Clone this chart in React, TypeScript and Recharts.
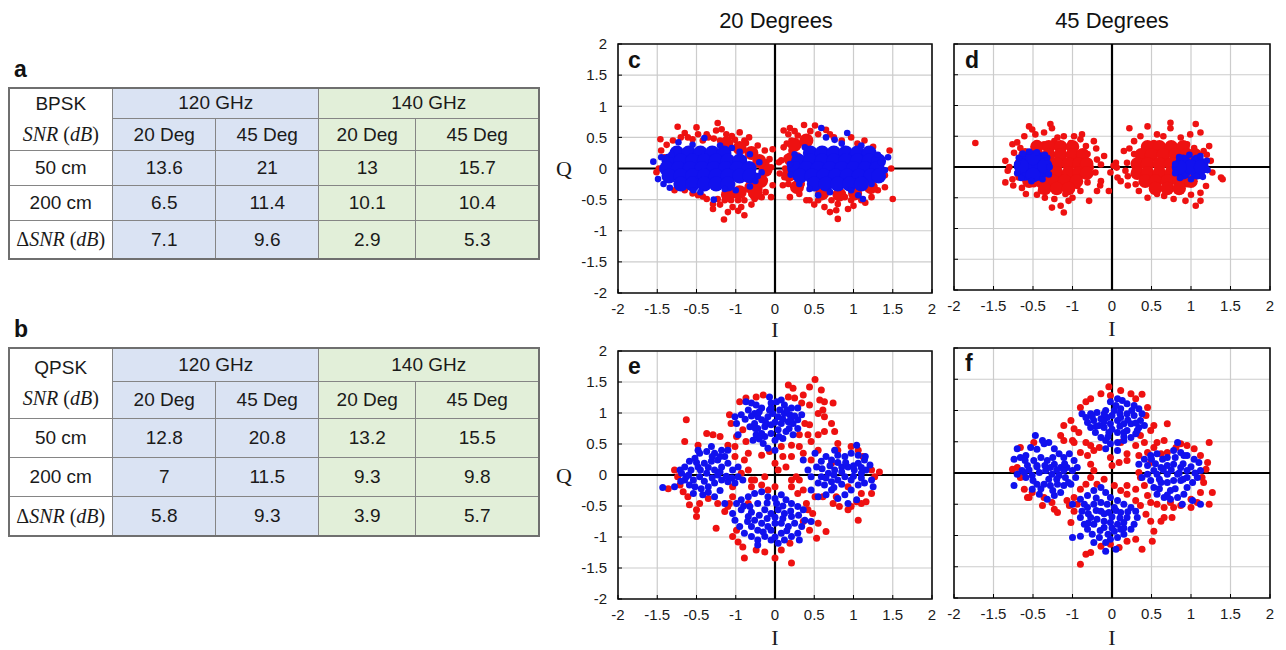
import React from 'react';
import { ScatterChart, Scatter, XAxis, YAxis, CartesianGrid, ReferenceLine, ReferenceArea } from 'recharts';

type Pt = [number, number];

// ---- tables ----
const freqs = ['120 GHz', '140 GHz'];
const angles = ['20 Deg', '45 Deg', '20 Deg', '45 Deg'];
const rowLabels = ['50 cm', '200 cm'];
const bpskSnr = [[13.6, 21, 13, 15.7], [6.5, 11.4, 10.1, 10.4]];
const bpskDelta = [7.1, 9.6, 2.9, 5.3];
const qpskSnr = [[12.8, 20.8, 13.2, 15.5], [7, 11.5, 9.3, 9.8]];
const qpskDelta = [5.8, 9.3, 3.9, 5.7];

// ---- axes ----
const tickValues = [-2, -1.5, -1, -0.5, 0, 0.5, 1, 1.5, 2];
const xTickLabels = ['-2', '-1.5', '-0.5', '-1', '0', '0.5', '1', '1.5', '2'];
const yTickLabels = ['-2', '-1.5', '-1', '-0.5', '0', '0.5', '1', '1.5', '2'];

// ---- c: BPSK 20 deg ----
const cRed: Pt[] = [
  [-1.24,0.67],[-1.46,0.47],[-1.15,0.57],[-1.0,0.66],[-0.87,0.55],[-0.73,0.73],[-0.75,0.61],[-0.62,0.55],[-0.51,0.46],[-0.39,0.45],
  [-0.37,0.41],[-0.22,0.37],[-0.13,0.29],[-0.03,0.31],[-0.07,0.15],[-0.05,0.02],[-0.09,-0.06],[-0.13,-0.19],[-0.2,-0.33],[-0.3,-0.41],
  [-0.39,-0.51],[-0.47,-0.51],[-0.56,-0.51],[-0.64,-0.51],[-0.73,-0.49],[-0.79,-0.57],[-0.79,-0.65],[-0.65,-0.82],[-0.39,-0.75],[-0.43,-0.62],
  [-0.54,-0.62],[-0.87,-0.49],[-0.98,-0.43],[-1.15,-0.35],[-1.28,-0.35],[-1.45,0.29],[-1.41,0.18],[-1.48,0],[-1.51,-0.06],[-0.03,-0.27],
  [-0.26,-0.49],[-0.17,-0.46],[-0.85,0.5],[-0.98,0.55],[-1.11,0.5],[-0.68,0.63],[-0.6,0.42],[-0.47,0.37],[-0.3,0.29],[-0.24,0.15],
  [-0.11,0.1],[-0.15,-0.11],[-0.24,-0.27],[-0.34,-0.33],[-0.51,-0.43],[-0.62,-0.41],[-0.05,-0.46],[-1.3,0.45],[-1.2,0.5],[-0.92,0.45],
  [-0.78,0.48],[-0.7,0.45],[-0.55,0.52],[-0.45,0.58],[-0.33,0.5],[-1.38,0.38],[-1.05,0.47],[-1.05,-0.4],[-0.92,-0.45],[-0.7,-0.58],
  [-0.6,-0.7],[-0.47,-0.68],[-0.3,-0.58],[-0.12,-0.38],
  [0.11,0.61],[0.19,0.65],[0.37,0.7],[0.51,0.69],[0.65,0.62],[0.17,0.55],[0.21,0.45],[0.11,0.34],[0.29,0.53],[0.38,0.42],
  [0.08,0.13],[0.12,-0.14],[0.1,-0.27],[0.17,-0.25],[0.19,-0.46],[0.34,-0.25],[0.4,-0.51],[0.44,-0.51],[0.55,-0.51],[0.63,-0.62],
  [0.78,-0.67],[0.8,-0.81],[0.93,-0.65],[0.97,-0.51],[1.1,-0.51],[1.23,-0.46],[1.31,-0.35],[1.4,-0.3],[1.5,-0.49],[1.46,0.29],
  [1.48,0],[1.4,-0.11],[0.72,-0.51],[0.89,-0.46],[0.63,-0.41],[0.31,-0.41],[0.25,-0.33],[0.97,0.5],[1.14,0.45],[0.55,0.55],
  [0.42,0.34],[0.21,0.29],[0.29,0.21],[0.8,-0.57],[0.05,0.1],[0.06,-0.08],[0.15,0.17],[0.13,0.0],[0.25,0.6],[0.3,0.38],
  [0.45,0.6],[0.75,0.5],[0.85,0.45],[1.05,0.4],[1.25,0.35],[0.5,-0.58],[0.7,-0.7],[1.0,-0.6],[1.15,-0.55],[0.15,0.4],[0.7,0.55],
];
const cRedCore: Pt[] = [
  [-0.3,-0.3],[-0.45,-0.38],[-0.18,-0.2],[-0.12,-0.02],[-0.2,0.12],[-0.3,0.25],[-0.45,0.33],[-0.62,0.4],[-0.6,-0.42],[-0.25,-0.4],
  [0.25,0.38],[0.4,0.45],[0.2,0.15],[0.18,-0.1],[0.6,-0.4],[0.82,-0.42],[1.02,-0.4],[1.22,-0.3],[0.28,-0.3],
];
const cBlueCore: Pt[] = [
  [-1.25,0.25],[-1.1,0.25],[-0.95,0.25],[-0.8,0.25],[-0.65,0.25],
  [-1.35,0.12],[-1.2,0.12],[-1.05,0.12],[-0.9,0.12],[-0.75,0.12],[-0.6,0.12],[-0.45,0.12],
  [-1.38,0],[-1.23,0],[-1.08,0],[-0.93,0],[-0.78,0],[-0.63,0],[-0.48,0],[-0.33,0],
  [-1.35,-0.12],[-1.2,-0.12],[-1.05,-0.12],[-0.9,-0.12],[-0.75,-0.12],[-0.6,-0.12],[-0.45,-0.12],[-0.32,-0.12],
  [-1.2,-0.25],[-1.05,-0.25],[-0.9,-0.25],[-0.75,-0.25],[-0.6,-0.25],
  [0.45,0.25],[0.6,0.25],[0.75,0.25],[0.9,0.25],[1.05,0.25],[1.2,0.25],
  [0.3,0.12],[0.45,0.12],[0.6,0.12],[0.75,0.12],[0.9,0.12],[1.05,0.12],[1.2,0.12],[1.32,0.12],
  [0.25,0],[0.4,0],[0.55,0],[0.7,0],[0.85,0],[1.0,0],[1.15,0],[1.3,0],
  [0.32,-0.12],[0.47,-0.12],[0.62,-0.12],[0.77,-0.12],[0.92,-0.12],[1.07,-0.12],[1.22,-0.12],[1.32,-0.12],
  [0.5,-0.25],[0.65,-0.25],[0.8,-0.25],[0.95,-0.25],[1.1,-0.25],
];
const cBlue: Pt[] = [
  [-1.55,0.11],[-1.49,-0.17],[-1.34,-0.31],[-1.32,0.22],[-1.23,0.42],[-0.9,0.49],[-0.78,-0.5],[-0.32,0.23],[-0.17,-0.06],[-0.32,-0.29],
  [-0.64,-0.33],[-1.04,-0.35],[-1.05,0.38],[-0.7,0.37],[-0.55,0.33],[-0.45,0.27],[-0.2,0.1],[-0.25,-0.2],[-0.5,-0.35],[-0.95,-0.38],
  [-1.42,-0.25],[-1.45,0.18],[-0.22,-0.12],[-0.4,0.15],
  [0.59,0.65],[0.92,0.57],[0.65,0.5],[0.76,0.46],[1.31,0.22],[1.35,0.1],[1.12,-0.49],[1.06,-0.43],[0.55,-0.43],[0.44,-0.33],
  [0.31,-0.25],[0.19,0.07],[0.25,0.23],[0.38,0.34],[1.4,-0.03],[1.23,-0.25],[0.97,-0.35],[0.85,0.4],[1.1,0.37],[1.44,0.18],
  [0.7,-0.38],[0.2,-0.1],
];

// ---- d: BPSK 45 deg ----
const dRed: Pt[] = [
  [-1.73,0.39],[-1.05,0.66],[-1.01,0.61],[-0.78,0.7],[-0.76,0.63],[-1.11,0.5],[-1.26,0.37],[-1.24,0.23],[-1.35,0.1],[-1.32,-0.06],
  [-1.35,-0.25],[-1.26,-0.2],[-1.14,-0.34],[-1.09,-0.44],[-0.9,-0.39],[-0.73,-0.52],[-0.76,-0.66],[-0.61,-0.74],[-0.65,-0.63],[-0.5,-0.5],
  [-0.4,-0.39],[-0.29,-0.55],[-0.19,-0.39],[-0.04,-0.39],[-0.14,-0.23],[-0.21,-0.09],[-0.14,0.04],[-0.1,0.18],[-0.19,0.12],[-0.23,0.42],
  [-0.38,0.53],[-0.48,0.5],[-0.61,0.5],[-0.69,0.48],[-0.86,0.56],[-0.97,0.53],[-0.86,0.37],[-0.31,0.21],[-0.27,-0.01],[-0.31,-0.25],
  [-0.44,-0.31],[-0.59,-0.44],[-0.99,-0.28],[-1.18,-0.17],[-1.16,0.31],[-0.95,0.39],[-0.73,0.42],[-0.52,0.39],[-0.33,0.34],[-1.3,0.0],
  [-1.2,0.4],[-0.55,-0.55],[-0.85,-0.5],[-0.2,0.3],[-0.15,-0.3],[-1.25,-0.3],[-0.4,0.45],[-0.95,-0.45],
  [0.22,0.63],[0.45,0.66],[0.74,0.72],[0.74,0.63],[1.06,0.7],[1.12,0.56],[0.99,0.53],[1.23,0.34],[1.16,0.26],[1.25,0.1],
  [1.27,-0.09],[1.38,-0.17],[1.4,-0.2],[1.19,-0.31],[1.12,-0.42],[1.12,-0.55],[1.06,-0.63],[0.93,-0.55],[0.78,-0.52],[0.66,-0.47],
  [0.57,-0.44],[0.34,-0.39],[0.3,-0.28],[0.11,-0.23],[0.07,-0.17],[0.05,0.07],[0.15,0.26],[0.19,0.07],[0.28,0.21],[0.28,0.42],
  [0.36,0.5],[0.57,0.53],[0.53,0.39],[0.87,0.48],[0.95,0.37],[1.04,0.31],[1.1,0.15],[0.95,-0.28],[0.87,-0.39],[0.17,-0.06],
  [0.02,0.02],[-0.02,-0.09],[0.06,-0.01],[0.2,-0.3],[0.45,-0.5],[1.0,-0.45],[0.22,0.3],[1.2,0.2],[0.2,-0.15],[0.65,0.5],
];
const dRedCore: Pt[] = [
  [-0.95,0.33],[-0.8,0.33],[-0.65,0.33],[-0.5,0.33],
  [-1.1,0.2],[-0.95,0.2],[-0.8,0.2],[-0.65,0.2],[-0.5,0.2],[-0.37,0.2],
  [-1.15,0.05],[-1.0,0.05],[-0.85,0.05],[-0.7,0.05],[-0.55,0.05],[-0.42,0.05],[-0.32,0.05],
  [-1.15,-0.1],[-1.0,-0.1],[-0.85,-0.1],[-0.7,-0.1],[-0.55,-0.1],[-0.42,-0.1],[-0.32,-0.1],
  [-1.05,-0.23],[-0.9,-0.23],[-0.75,-0.23],[-0.6,-0.23],[-0.45,-0.23],
  [-0.85,-0.35],[-0.7,-0.35],[-0.55,-0.35],
  [0.45,0.33],[0.6,0.33],[0.75,0.33],[0.9,0.33],
  [0.37,0.2],[0.5,0.2],[0.65,0.2],[0.8,0.2],[0.95,0.2],[1.05,0.2],
  [0.32,0.05],[0.45,0.05],[0.6,0.05],[0.75,0.05],[0.85,0.05],
  [0.32,-0.1],[0.45,-0.1],[0.6,-0.1],[0.75,-0.1],[0.85,-0.1],
  [0.42,-0.23],[0.55,-0.23],[0.7,-0.23],[0.85,-0.23],[1.0,-0.23],
  [0.55,-0.35],[0.7,-0.35],[0.85,-0.35],
];
const dBlueCore: Pt[] = [
  [-1.1,0.12],[-0.92,0.12],[-1.1,-0.1],[-0.92,-0.1],[-1.0,0.0],[-1.0,0.15],[-1.0,-0.13],[-0.85,0.02],[-1.15,0.02],
  [0.9,0.08],[1.08,0.08],[0.9,-0.08],[1.08,-0.08],[1.0,0.0],[0.85,0.0],[1.13,0.0],
];
const dBlue: Pt[] = [
  [-1.2,0.05],[-1.2,-0.1],[-1.18,0.15],[-1.05,0.25],[-0.95,0.24],[-0.82,0.15],[-0.79,0.0],[-0.8,-0.12],[-0.88,-0.2],[-1.02,-0.23],
  [-1.15,-0.18],[-0.85,0.2],[-1.13,0.22],
  [0.8,0.05],[0.8,-0.1],[0.85,0.16],[0.98,0.2],[1.12,0.18],[1.2,0.1],[1.21,-0.05],[1.15,-0.16],[1.0,-0.2],[0.86,-0.18],
];

// ---- e: QPSK 20 deg ----
const eRed: Pt[] = [
  [0.17,1.45],[0.23,1.4],[0.36,1.29],[0.44,1.42],[0.51,1.54],[0.59,1.37],[0.57,1.21],[0.63,1.18],[0.61,1.05],[0.55,0.99],
  [0.44,1.13],[0.34,1.16],[0.25,1.24],[0.17,1.26],[-0.15,1.29],[-0.24,1.26],[-0.37,1.24],[-0.58,0.97],[-0.45,1.18],[-0.56,0.83],
  [-0.49,0.62],[-0.41,0.73],[-0.37,0.54],[-0.34,0.35],[-0.17,0.32],[-0.07,0.38],[0.08,0.46],[0.21,0.48],[0.21,0.3],[0.31,0.46],
  [0.38,0.83],[0.44,0.81],[0.46,0.54],[0.55,0.4],[0.63,0.7],[0.72,0.83],[0.76,0.7],[0.8,0.51],[0.55,0.65],[0.74,1.16],
  [0.63,0.94],[0.42,0.65],[0.31,0.65],[0.1,0.3],[0,0.19],[0.14,0.13],[0.04,0.08],
  [-1.13,0.89],[-1.15,0.54],[-0.98,0.48],[-0.87,0.67],[-0.79,0.65],[-0.7,0.62],[-0.6,0.48],[-0.51,0.46],[-1.28,0.08],[-1.24,-0.03],
  [-1.21,-0.16],[-1.17,-0.27],[-1.11,-0.35],[-1.09,-0.48],[-1,-0.56],[-1,-0.67],[-0.75,-0.86],[-0.64,-0.59],[-0.58,-0.46],[-0.54,-0.35],
  [-0.54,-0.19],[-0.43,0.03],[-0.34,0.08],[-0.3,-0.08],[-0.3,-0.19],[-0.26,-0.08],[-0.39,0.24],[-0.51,0.3],[-0.85,-0.38],[-0.96,-0.46],
  [-0.73,-0.46],[-1.36,-0.22],
  [0.8,0.4],[0.97,0.46],[1.06,0.4],[1.12,0.3],[1.23,0.08],[1.33,0.05],[1.27,-0.03],[1.23,-0.3],[1.16,-0.43],[1.1,-0.46],
  [1.04,-0.43],[0.97,-0.51],[0.93,-0.56],[0.82,-0.51],[0.74,-0.46],[0.61,-0.35],[0.51,-0.35],[0.4,-0.46],[0.36,-0.24],[0.31,-0.08],
  [0.27,-0.03],[0.46,0.24],[0.36,0.35],[0.72,0.19],[0.93,-0.19],[1.1,-0.3],[1.06,-0.73],[0.78,-0.35],
  [-0.13,-0.03],[-0.17,-0.16],[-0.09,-0.24],[0,-0.19],[0.21,-0.08],[0.21,-0.19],[0.29,-0.3],[0.42,-0.56],[0.48,-0.62],[0.55,-0.78],
  [0.65,-0.91],[0.53,-1.02],[0.44,-0.89],[0.36,-0.75],[0.19,-1.1],[0.08,-1.21],[0,-1.34],[0.21,-1.42],[-0.13,-1.24],[-0.24,-1.21],
  [-0.39,-1.34],[-0.41,-1.16],[-0.47,-1.08],[-0.49,-0.89],[-0.54,-0.99],[-0.34,-0.46],[-0.6,-0.51],
];
const eBlue: Pt[] = [
  [-0.37,1.18],[-0.3,1.16],[-0.24,1.13],[-0.34,1.05],[-0.26,0.99],[-0.17,1.08],[-0.07,1.26],[-0.05,1.16],[0.02,1.18],[0.08,1.21],
  [0.12,1.13],[0.21,1.08],[0.29,1.08],[0.12,0.99],[0.04,0.94],[-0.09,0.94],[-0.17,0.89],[-0.26,0.83],[-0.32,0.78],[-0.22,0.75],
  [-0.13,0.78],[-0.05,0.81],[0.08,0.83],[0.17,0.86],[0.23,0.83],[0.29,0.75],[0.23,0.65],[0.14,0.7],[0.04,0.73],[-0.05,0.67],
  [-0.13,0.62],[-0.24,0.65],[-0.28,0.56],[-0.15,0.51],[-0.09,0.43],[0,0.4],[-0.49,0.83],[-0.51,0.94],[-0.43,0.97],[-0.47,0.65],
  [0.1,0.59],[0.29,0.89],[0.34,0.97],[-0.07,1.05],[-0.17,0.67],[-0.22,0.94],[-0.03,0.99],[0.06,1.05],[0.19,0.97],[0,0.56],
  [-0.3,0.95],[-0.2,1.02],[-0.12,0.85],[0.0,0.85],[0.1,0.9],[0.2,0.9],[0.15,1.05],[-0.25,0.75],[-0.05,1.08],[0.25,0.95],
  [-0.38,0.9],[0.05,0.62],[-0.2,0.58],[0.18,0.75],
  [-1.43,-0.2],[-1.28,-0.19],[-1.21,0.08],[-1.15,0.13],[-1.09,0.22],[-1.02,0.27],[-0.96,0.35],[-0.87,0.38],[-0.77,0.35],[-0.68,0.4],
  [-0.64,0.3],[-0.73,0.24],[-0.81,0.22],[-0.9,0.19],[-0.98,0.13],[-1.07,0.08],[-1.13,-0.03],[-1.04,-0.08],[-0.96,-0.03],[-0.87,0.03],
  [-0.77,0.08],[-0.68,0.13],[-0.6,0.19],[-0.54,0.08],[-0.47,-0.03],[-0.51,-0.13],[-0.6,-0.11],[-0.68,-0.08],[-0.77,-0.13],[-0.85,-0.19],
  [-0.94,-0.22],[-1.02,-0.19],[-1.09,-0.16],[-0.92,-0.32],[-0.77,-0.35],[-0.64,-0.46],[-1.04,-0.3],[-1.15,-0.08],[-1.19,0.03],[-0.6,0.4],
  [-0.81,0.46],[-0.47,0.13],[-0.41,-0.08],[-0.98,0.4],[-0.73,0],
  [-1.1,0.0],[-0.95,0.08],[-0.85,0.12],[-0.7,0.05],[-0.62,-0.02],[-0.9,-0.1],[-0.8,-0.05],[-1.0,0.2],[-0.8,0.3],[-0.7,0.3],
  [-0.55,-0.05],[-1.2,-0.1],[-0.85,-0.28],[-0.7,-0.25],
  [0.36,0.24],[0.42,0.08],[0.46,-0.03],[0.53,0.13],[0.59,0.22],[0.65,0.3],[0.72,0.24],[0.8,0.32],[0.89,0.3],[0.97,0.35],
  [1.04,0.48],[1.06,0.32],[1.14,0.24],[1.21,0.16],[1.16,0.08],[1.1,0.03],[1.01,0.08],[0.93,0.13],[0.85,0.13],[0.76,0.08],
  [0.68,0.03],[0.59,-0.03],[0.55,-0.13],[0.63,-0.16],[0.72,-0.11],[0.8,-0.08],[0.89,-0.03],[0.97,-0.08],[1.06,-0.16],[1.14,-0.13],
  [1.23,-0.08],[1.25,-0.19],[0.97,-0.24],[0.89,-0.32],[0.8,-0.38],[0.72,-0.24],[0.65,-0.32],[0.46,-0.24],[0.93,-0.46],[1.04,-0.4],
  [0.55,-0.35],[0.76,0.4],[0.51,0.35],[1.06,0.19],
  [0.6,0.1],[0.7,0.15],[0.8,0.2],[0.9,0.2],[1.0,0.15],[1.1,0.12],[0.65,-0.05],[0.75,0.0],[0.85,0.05],[1.0,-0.02],
  [1.1,-0.05],[0.85,-0.15],[0.75,-0.2],[1.15,0.3],
  [-0.49,-0.46],[-0.43,-0.4],[-0.34,-0.35],[-0.26,-0.3],[-0.17,-0.27],[-0.09,-0.35],[0,-0.38],[0.08,-0.32],[0.14,-0.4],[0.21,-0.46],
  [0.29,-0.51],[0.36,-0.56],[0.38,-0.73],[0.34,-0.83],[0.29,-0.94],[0.21,-0.99],[0.12,-1.05],[0.04,-1.1],[-0.05,-1.05],[-0.13,-0.99],
  [-0.22,-1.05],[-0.3,-0.99],[-0.39,-0.94],[-0.45,-0.83],[-0.51,-0.73],[-0.54,-0.62],[-0.43,-0.56],[-0.32,-0.51],[-0.22,-0.46],[-0.13,-0.56],
  [-0.05,-0.62],[0.04,-0.56],[0.12,-0.62],[0.21,-0.67],[0.25,-0.78],[0.17,-0.83],[0.08,-0.78],[0,-0.78],[-0.09,-0.83],[-0.17,-0.78],
  [-0.26,-0.73],[-0.34,-0.67],[-0.3,-0.83],[-0.22,-0.89],[-0.05,-0.89],[0.08,-0.94],[0.02,-0.46],[0.46,-0.75],[0.31,-1.05],[-0.22,-1.13],
  [-0.3,-0.6],[-0.2,-0.65],[-0.1,-0.7],[0.0,-0.68],[0.1,-0.7],[0.2,-0.58],[-0.35,-0.75],[-0.15,-0.92],[0.15,-0.9],[0.0,-1.0],
  [-0.4,-0.5],[0.3,-0.65],[-0.1,-0.45],[0.1,-0.5],
];

// ---- f: QPSK 45 deg ----
const fRed: Pt[] = [
  [-0.04,1.38],[-0.02,1.24],[-0.14,1.27],[-0.27,1.19],[-0.33,1.14],[-0.4,1.05],[-0.52,0.84],[-0.61,0.76],[-0.48,0.71],[-0.42,0.65],
  [-0.33,0.49],[-0.27,0.44],[-0.23,0.36],[-0.16,0.41],[0.11,1.32],[0.24,1.27],[0.38,1.26],[0.3,1.19],[0.45,1.05],[0.43,0.92],
  [0.53,0.76],[0.49,0.68],[0.36,0.6],[0.41,0.49],[0.3,0.44],[0.19,0.31],[0.11,0.49],[-0.02,0.25],[0.7,0.79],[0.57,0.49],
  [0.66,0.52],[0.53,0.41],[0.45,0.33],[0.34,0.28],[0,0.12],[0.09,0.17],[0.19,0.2],
  [-1.2,0.09],[-1.16,-0.07],[-1.11,-0.26],[-1.07,-0.39],[-1.01,-0.31],[-0.88,-0.52],[-0.73,-0.58],[-0.69,-0.63],[-0.57,-0.44],[-0.48,-0.39],
  [-0.4,-0.26],[-0.33,-0.18],[-0.27,-0.07],[-0.23,0.04],[-0.27,0.14],[-0.31,0.28],[-0.4,0.33],[-0.48,0.49],[-0.61,0.52],[-0.65,0.6],
  [-0.5,0.52],[-0.99,0.49],[-1.16,0.41],[-1.26,0.06],[-1.05,-0.39],[-0.86,-0.39],[-0.76,-0.47],
  [0.34,0.01],[0.36,-0.07],[0.41,-0.2],[0.45,-0.36],[0.49,-0.47],[0.57,-0.5],[0.66,-0.55],[0.78,-0.55],[0.87,-0.52],[1,-0.42],
  [1.12,-0.31],[1.16,-0.15],[1.14,-0.07],[1.19,0.06],[1.21,0.17],[1.12,0.28],[1.04,0.39],[0.95,0.44],[0.87,0.47],[0.81,0.41],
  [0.7,0.33],[0.62,0.31],[0.49,0.17],[1.23,0.49],[1.27,-0.31],[1.23,-0.5],[1.08,-0.47],[1,-0.55],[0.74,-0.47],
  [-0.4,-1.46],[-0.33,-1.3],[-0.27,-1.27],[-0.14,-1.17],[-0.02,-1.14],[0.09,-1.19],[0.19,-1.09],[0.3,-1.06],[0.38,-1.22],[0.51,-1.09],
  [0.53,-0.93],[0.62,-0.77],[0.66,-0.71],[0.76,-0.71],[0.49,-0.77],[0.43,-0.66],[0.36,-0.52],[0.3,-0.44],[0.19,-0.34],[0.11,-0.28],
  [0.03,-0.2],[-0.1,-0.1],[-0.19,-0.18],[-0.48,-0.61],[-0.52,-0.79],[-0.54,-0.52],[-0.44,-0.5],[0.19,-0.2],[0.3,-0.26],
];
const fBlue: Pt[] = [
  [-0.33,0.89],[-0.27,0.95],[-0.19,0.97],[-0.08,1],[-0.02,1.14],[0.07,1.19],[0.13,1.16],[0.19,1.11],[0.28,1.08],[0.34,1.03],
  [0.38,0.95],[0.36,0.84],[0.34,0.73],[0.3,0.63],[0.24,0.57],[0.15,0.52],[0.07,0.49],[-0.02,0.47],[-0.08,0.52],[-0.14,0.57],
  [-0.21,0.65],[-0.27,0.73],[-0.31,0.81],[-0.23,0.84],[-0.14,0.87],[-0.06,0.89],[0.03,1],[0.11,1.03],[0.19,0.95],[0.28,0.92],
  [0.24,0.79],[0.15,0.79],[0.07,0.84],[-0.02,0.79],[-0.1,0.73],[-0.16,0.76],[-0.04,0.65],[0.07,0.65],[0.15,0.65],[0.07,0.36],
  [-0.08,0.39],[0.41,0.76],[-0.38,0.95],[0.11,0.89],[0,0.92],[0.19,0.68],
  [-0.2,0.75],[-0.1,0.82],[0.0,0.7],[0.1,0.75],[0.2,0.85],[0.3,0.8],[0.25,1.0],[0.05,1.08],[-0.1,0.95],[-0.25,0.9],
  [0.15,0.58],[-0.05,0.58],[0.32,0.68],[0.1,0.95],
  [-1.24,0.22],[-1.24,-0.2],[-1.2,0.39],[-1.16,0.25],[-1.09,0.28],[-1.03,0.41],[-0.97,0.6],[-0.88,0.52],[-0.8,0.49],[-0.73,0.39],
  [-0.67,0.31],[-0.61,0.25],[-0.54,0.31],[-0.48,0.2],[-0.44,0.09],[-0.5,0.04],[-0.57,0.09],[-0.65,0.09],[-0.73,0.14],[-0.82,0.2],
  [-0.9,0.25],[-0.99,0.2],[-1.07,0.12],[-1.14,0.04],[-1.09,-0.07],[-1.01,-0.04],[-0.92,0.01],[-0.84,0.04],[-0.76,-0.02],[-0.67,-0.04],
  [-0.59,-0.07],[-0.52,-0.18],[-0.61,-0.2],[-0.69,-0.18],[-0.78,-0.2],[-0.86,-0.18],[-0.95,-0.18],[-1.01,-0.26],[-0.92,-0.34],[-0.82,-0.42],
  [-0.73,-0.36],[-0.86,0.47],[-1.11,0.01],[-0.46,-0.07],[-0.65,-0.31],[-1.2,-0.02],[-0.95,0.12],[-0.78,0.09],[-0.61,0.04],
  [-1.05,0.05],[-0.95,0.1],[-0.85,0.12],[-0.7,0.05],[-0.6,0.15],[-0.8,-0.1],[-0.7,-0.1],[-1.0,-0.12],[-0.9,-0.25],[-0.75,-0.28],
  [-1.1,0.2],[-0.95,0.38],[-0.75,0.25],[-0.55,-0.15],
  [0.34,0.14],[0.41,0.22],[0.49,0.28],[0.57,0.31],[0.64,0.22],[0.7,0.25],[0.78,0.36],[0.83,0.49],[0.87,0.33],[0.95,0.28],
  [1.04,0.22],[1.1,0.17],[1.12,0.04],[1.08,-0.07],[1.02,-0.15],[0.95,-0.23],[0.91,-0.34],[0.83,-0.39],[0.74,-0.42],[0.66,-0.39],
  [0.57,-0.34],[0.53,-0.23],[0.49,-0.12],[0.45,-0.02],[0.53,0.04],[0.62,0.09],[0.7,0.12],[0.78,0.14],[0.87,0.09],[0.95,0.04],
  [0.95,-0.07],[0.87,-0.12],[0.78,-0.12],[0.7,-0.15],[0.62,-0.15],[0.57,-0.02],[0.7,-0.02],[0.83,-0.02],[0.89,-0.5],[1.02,-0.44],
  [1.12,-0.5],[0.38,-0.07],[0.45,0.12],[0.74,-0.28],[0.91,0.28],
  [0.55,0.15],[0.65,0.05],[0.75,0.05],[0.85,0.0],[0.9,0.15],[1.0,0.1],[1.05,0.0],[0.6,-0.1],[0.8,-0.25],[0.9,-0.1],
  [0.7,-0.35],[0.6,-0.25],[0.5,0.22],[0.8,0.25],
  [-0.5,-0.5],[-0.4,-0.42],[-0.31,-0.36],[-0.23,-0.28],[-0.14,-0.23],[-0.08,-0.31],[-0.02,-0.39],[0.07,-0.44],[0.15,-0.5],[0.24,-0.55],
  [0.3,-0.61],[0.32,-0.71],[0.28,-0.82],[0.24,-0.9],[0.15,-0.98],[0.07,-1.03],[-0.02,-1.06],[-0.08,-1.11],[-0.16,-1.03],[-0.25,-0.98],
  [-0.31,-0.9],[-0.35,-0.82],[-0.4,-0.71],[-0.38,-0.61],[-0.31,-0.55],[-0.23,-0.5],[-0.14,-0.47],[-0.06,-0.5],[0.03,-0.55],[0.11,-0.63],
  [0.19,-0.71],[0.15,-0.79],[0.07,-0.82],[-0.02,-0.79],[-0.1,-0.77],[-0.19,-0.74],[-0.27,-0.71],[-0.23,-0.82],[-0.1,-0.87],[0.03,-0.93],
  [-0.5,-1.03],[-0.4,-1.01],[-0.08,-1.25],[0.05,-1.22],[-0.23,-1.11],[-0.14,-0.61],[-0.04,-0.63],[0.11,-0.9],
  [-0.3,-0.65],[-0.2,-0.6],[-0.1,-0.65],[0.0,-0.7],[0.1,-0.72],[0.2,-0.62],[-0.3,-0.8],[-0.15,-0.92],[0.0,-0.88],[0.15,-0.88],
  [-0.05,-0.98],[-0.2,-0.4],[0.05,-0.6],[-0.35,-0.5],
];

const RED = '#ee1111';
const BLUE = '#1111ee';
const SANS = '"Liberation Sans", Arial, Helvetica, sans-serif';
const SERIF = '"Liberation Serif", "Times New Roman", serif';

type Layer = { data: Pt[]; color: string; r: number };

const rows = (pts: Pt[]) => pts.map(([x, y]) => ({ x, y }));

function Panel(props: {
  left: number; top: number; width: number; height: number;
  margin: { top: number; right: number; bottom: number; left: number };
  yWidth: number; yLabels: boolean; xLabelOffset: number; layers: Layer[];
}) {
  const { left, top, width, height, margin, yWidth, yLabels, xLabelOffset, layers } = props;
  return (
    <div style={{ position: 'absolute', left, top }}>
      <ScatterChart width={width} height={height} margin={margin}>
        <CartesianGrid stroke="#cccccc" strokeWidth={1.2} />
        <XAxis
          type="number" dataKey="x" domain={[-2, 2]} ticks={tickValues} interval={0} allowDataOverflow
          tickFormatter={(v: number) => xTickLabels[tickValues.indexOf(v)] ?? ''}
          axisLine={false} tickLine={{ stroke: '#000', strokeWidth: 1 }} tickSize={-4} tickMargin={14} height={22}
          tick={{ fill: '#1a1a1a', fontSize: 15, fontFamily: SANS }}
          label={{ value: 'I', position: 'bottom', offset: xLabelOffset, style: { fill: '#1a1a1a', fontSize: 22, fontFamily: SERIF } }}
        />
        <YAxis
          type="number" dataKey="y" domain={[-2, 2]} ticks={tickValues} interval={0} allowDataOverflow
          tickFormatter={(v: number) => (yLabels ? yTickLabels[tickValues.indexOf(v)] ?? '' : '')}
          axisLine={false} tickLine={{ stroke: '#000', strokeWidth: 1 }} tickSize={-4} tickMargin={15} width={yWidth}
          tick={{ fill: '#1a1a1a', fontSize: 15, fontFamily: SANS }}
          label={yLabels ? { value: 'Q', position: 'insideLeft', offset: 6, style: { fill: '#1a1a1a', fontSize: 22, fontFamily: SERIF } } : undefined}
        />
        {layers.map((l, i) => (
          <Scatter
            key={i}
            data={rows(l.data)}
            isAnimationActive={false}
            shape={(p: any) => <circle cx={p.cx} cy={p.cy} r={l.r} fill={l.color} />}
          />
        ))}
        <ReferenceArea x1={-2} x2={2} y1={-2} y2={2} fill="none" fillOpacity={0} stroke="#111" strokeWidth={1.6} />
        <ReferenceLine x={0} stroke="#000" strokeWidth={2.2} />
        <ReferenceLine y={0} stroke="#000" strokeWidth={2.2} />
      </ScatterChart>
    </div>
  );
}

function SnrTable(props: { top: number; letter: string; mod: string; snr: number[][]; delta: number[]; rowH: number[] }) {
  const { top, letter, mod, snr, delta, rowH } = props;
  const colW = [104, 103, 103, 97, 123];
  const xs = [0];
  colW.forEach((w, i) => xs.push(xs[i] + w));
  const ys = [0];
  rowH.forEach((h, i) => ys.push(ys[i] + h));
  const bg = (c: number) => (c === 0 ? '#ffffff' : c <= 2 ? '#dae3f3' : '#e2efd9');
  const cell = (key: string, c0: number, c1: number, r0: number, r1: number, content: React.ReactNode, bgc: string) => (
    <div
      key={key}
      style={{
        position: 'absolute', left: xs[c0], top: ys[r0], width: xs[c1] - xs[c0] + 1.5, height: ys[r1] - ys[r0] + 1.5,
        boxSizing: 'border-box', border: '1.5px solid #858585', background: bgc,
        display: 'flex', alignItems: 'center', justifyContent: 'center',
        fontFamily: SANS, fontSize: 19, color: '#1a1a1a', whiteSpace: 'nowrap',
      }}
    >
      {content}
    </div>
  );
  const snrLabel = (
    <span style={{ fontFamily: SERIF, fontSize: 20 }}>
      <i>SNR</i> (<i>dB</i>)
    </span>
  );
  const cells: React.ReactNode[] = [];
  cells.push(cell('h0', 0, 1, 0, 2, (
    <div style={{ display: 'flex', flexDirection: 'column', alignItems: 'center', lineHeight: '30px' }}>
      <span>{mod}</span>
      {snrLabel}
    </div>
  ), '#ffffff'));
  freqs.forEach((f, i) => cells.push(cell('f' + i, 1 + i * 2, 3 + i * 2, 0, 1, f, bg(1 + i * 2))));
  angles.forEach((a, i) => cells.push(cell('a' + i, 1 + i, 2 + i, 1, 2, a, bg(1 + i))));
  rowLabels.forEach((lab, r) => {
    cells.push(cell('l' + r, 0, 1, 2 + r, 3 + r, lab, '#ffffff'));
    snr[r].forEach((v, c) => cells.push(cell('v' + r + c, 1 + c, 2 + c, 2 + r, 3 + r, String(v), bg(1 + c))));
  });
  cells.push(cell('dl', 0, 1, 4, 5, (
    <span style={{ fontFamily: SERIF, fontSize: 20 }}>
      Δ<i>SNR</i> (<i>dB</i>)
    </span>
  ), '#ffffff'));
  delta.forEach((v, c) => cells.push(cell('d' + c, 1 + c, 2 + c, 4, 5, String(v), bg(1 + c))));
  return (
    <>
      <div style={{ position: 'absolute', left: 14, top: top - 30, fontFamily: SANS, fontWeight: 700, fontSize: 23, lineHeight: '24px', color: '#111' }}>
        {letter}
      </div>
      <div style={{ position: 'absolute', left: 8, top, width: 532, height: ys[5] + 2 }}>
        {cells}
        <div style={{ position: 'absolute', left: 0, top: 0, width: xs[5] + 1.5, height: ys[5] + 1.5, boxSizing: 'border-box', border: '2px solid #6f6f6f' }} />
      </div>
    </>
  );
}

const textAbs = (left: number, top: number, text: string, size: number, bold = false, center = false) => (
  <div
    style={{
      position: 'absolute', left, top, fontFamily: SANS, fontSize: size, fontWeight: bold ? 700 : 400, color: '#111',
      lineHeight: `${size}px`, whiteSpace: 'nowrap', transform: center ? 'translateX(-50%)' : undefined,
    }}
  >
    {text}
  </div>
);

export default function App() {
  return (
    <div style={{ position: 'absolute', left: 0, top: 0, width: 1286, height: 650, background: '#fff', overflow: 'hidden' }}>
      <SnrTable top={87} letter="a" mod="BPSK" snr={bpskSnr} delta={bpskDelta} rowH={[31, 32, 35, 35, 38]} />
      <SnrTable top={347} letter="b" mod="QPSK" snr={qpskSnr} delta={qpskDelta} rowH={[34, 37, 39, 39, 39]} />

      <Panel
        left={550} top={0} width={390} height={352} margin={{ top: 44, right: 8, bottom: 37, left: 0 }}
        yWidth={68} yLabels xLabelOffset={6}
        layers={[
          { data: cRed, color: RED, r: 3.3 }, { data: cRedCore, color: RED, r: 7 },
          { data: cBlueCore, color: BLUE, r: 7.5 }, { data: cBlue, color: BLUE, r: 3.3 },
        ]}
      />
      <Panel
        left={940} top={0} width={340} height={352} margin={{ top: 44, right: 10, bottom: 40, left: 0 }}
        yWidth={14} yLabels={false} xLabelOffset={8}
        layers={[
          { data: dRed, color: RED, r: 3.3 }, { data: dRedCore, color: RED, r: 6.8 },
          { data: dBlueCore, color: BLUE, r: 7.5 }, { data: dBlue, color: BLUE, r: 3.3 },
        ]}
      />
      <Panel
        left={550} top={330} width={390} height={320} margin={{ top: 21, right: 8, bottom: 29, left: 0 }}
        yWidth={68} yLabels xLabelOffset={8}
        layers={[{ data: eRed, color: RED, r: 3.5 }, { data: eBlue, color: BLUE, r: 3.5 }]}
      />
      <Panel
        left={940} top={330} width={340} height={320} margin={{ top: 18, right: 10, bottom: 30, left: 0 }}
        yWidth={14} yLabels={false} xLabelOffset={9}
        layers={[{ data: fRed, color: RED, r: 3.5 }, { data: fBlue, color: BLUE, r: 3.5 }]}
      />

      {textAbs(776, 10, '20 Degrees', 22, false, true)}
      {textAbs(1112, 10, '45 Degrees', 22, false, true)}
      {textAbs(628, 49, 'c', 23, true)}
      {textAbs(965, 49, 'd', 23, true)}
      {textAbs(628, 355, 'e', 23, true)}
      {textAbs(965, 352, 'f', 23, true)}
    </div>
  );
}
